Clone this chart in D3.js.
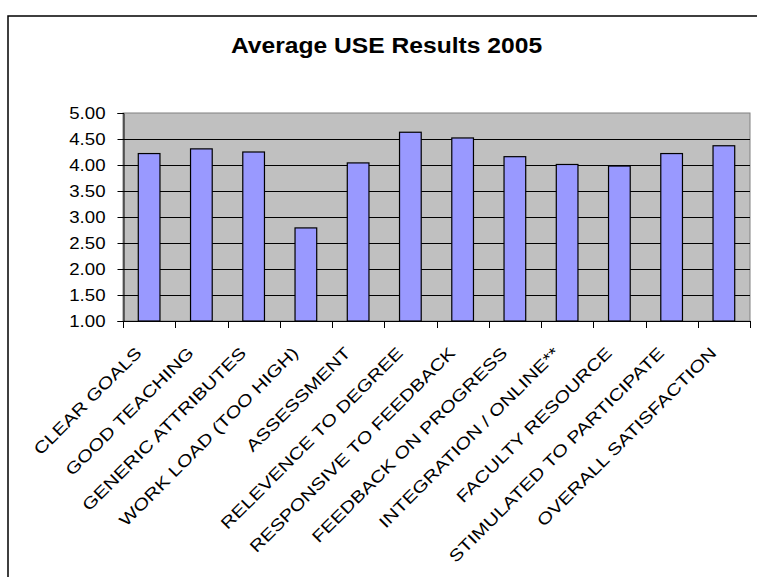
<!DOCTYPE html>
<html><head><meta charset="utf-8">
<script src="https://cdn.jsdelivr.net/npm/d3@7"></script>
<style>body{margin:0;background:#fff}svg{display:block}text{font-family:Arial,"Liberation Sans",sans-serif;fill:#000}</style>
</head><body>
<div id="chart"></div>
<script>
const title = "Average USE Results 2005";
const categories = ["CLEAR GOALS","GOOD TEACHING","GENERIC ATTRIBUTES","WORK LOAD (TOO HIGH)","ASSESSMENT","RELEVENCE TO DEGREE","RESPONSIVE TO FEEDBACK","FEEDBACK ON PROGRESS","INTEGRATION / ONLINE**","FACULTY RESOURCE","STIMULATED TO PARTICIPATE","OVERALL SATISFACTION"];
const values = [4.22,4.31,4.25,2.79,4.04,4.63,4.52,4.16,4.01,3.98,4.22,4.37];
const yTicks = [1.00,1.50,2.00,2.50,3.00,3.50,4.00,4.50,5.00];

const W = 757, H = 577;
const plot = {left:123, right:750, top:113, bottom:321};
const svg = d3.select("#chart").append("svg").attr("width",W).attr("height",H);

// outer chart frame
svg.append("rect").attr("x",8).attr("y",16).attr("width",800).attr("height",700)
  .attr("fill","#fff").attr("stroke","#000").attr("stroke-width",1.5);

const x = d3.scaleBand().domain(categories).range([plot.left,plot.right]).paddingInner(0.585).paddingOuter(0.2925);
const xb = d3.scaleBand().domain(categories).range([plot.left,plot.right]);
const y = d3.scaleLinear().domain([1,5]).range([plot.bottom,plot.top]);

// plot background
svg.append("rect").attr("x",plot.left).attr("y",plot.top)
  .attr("width",plot.right-plot.left).attr("height",plot.bottom-plot.top)
  .attr("fill","#C0C0C0").attr("stroke","#808080").attr("stroke-width",1);

// gridlines
svg.append("g").selectAll("line").data(yTicks.filter(d=>d>1 && d<5)).join("line")
  .attr("x1",plot.left).attr("x2",plot.right)
  .attr("y1",d=>Math.round(y(d))+0.5).attr("y2",d=>Math.round(y(d))+0.5)
  .attr("stroke","#000").attr("stroke-width",1);

// bars
svg.append("g").selectAll("rect").data(values).join("rect")
  .attr("x",(d,i)=>x(categories[i]))
  .attr("width",x.bandwidth())
  .attr("y",d=>y(d))
  .attr("height",d=>y(1)-y(d))
  .attr("fill","#9999FF").attr("stroke","#000").attr("stroke-width",1.2);

// y axis
const yAxis = d3.axisLeft(y).tickValues(yTicks).tickSize(6).tickPadding(12).tickFormat(d3.format(".2f"));
const gy = svg.append("g").attr("transform",`translate(${plot.left+0.5},0)`).call(yAxis);
gy.select(".domain").attr("stroke","#000");
gy.selectAll(".tick line").attr("stroke","#000");
gy.selectAll(".tick text").attr("font-size",16.5).attr("fill","#000")
  .attr("font-family",'Arial,"Liberation Sans",sans-serif')
  .each(function(){ const t=d3.select(this); const xx=+t.attr("x");
     t.attr("transform",`translate(${xx},0) scale(1.13,1)`).attr("x",0); });

// x axis (ticks at category boundaries)
const bounds = categories.map(c=>xb(c)).concat([plot.right]);
const gx = svg.append("g");
gx.append("line").attr("x1",plot.left).attr("x2",plot.right)
  .attr("y1",plot.bottom+0.5).attr("y2",plot.bottom+0.5).attr("stroke","#000");
gx.selectAll("line.t").data(bounds).join("line").attr("class","t")
  .attr("x1",d=>Math.round(d)+0.5).attr("x2",d=>Math.round(d)+0.5)
  .attr("y1",plot.bottom).attr("y2",plot.bottom+7).attr("stroke","#000");

gx.selectAll("text").data(categories).join("text")
  .attr("transform",d=>`translate(${xb(d)+xb.bandwidth()/2-6.5},${plot.bottom+33}) rotate(-45) scale(1.24,1)`)
  .attr("text-anchor","end")
  .attr("font-size",16.5).text(d=>d);

// title
svg.append("text").attr("x",386.5).attr("y",53.5).attr("text-anchor","middle")
  .attr("font-size",22).attr("font-weight","bold")
  .attr("transform","translate(386.5,0) scale(1.12,1) translate(-386.5,0)")
  .text(title);
</script>
</body></html>
